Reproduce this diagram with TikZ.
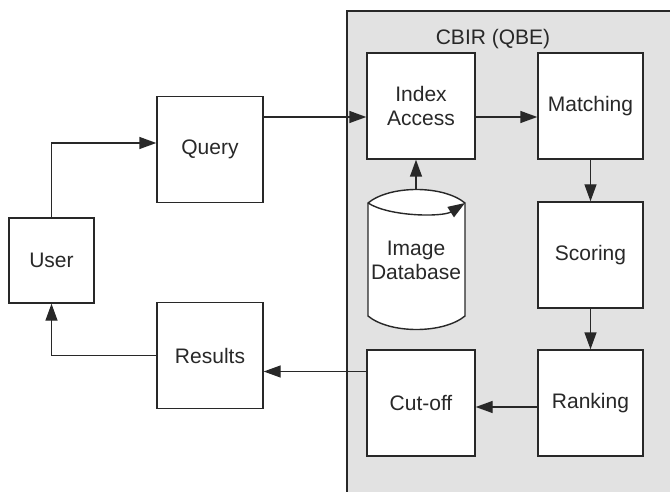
\documentclass[tikz,border=0pt]{standalone}
\usepackage{fontspec}
\setmainfont{Liberation Sans}
\usetikzlibrary{arrows.meta}
\definecolor{panelgray}{RGB}{226,226,226}
\definecolor{ink}{RGB}{40,40,40}
\begin{document}
\begin{tikzpicture}[x=1pt,y=-1pt,
  line/.style={draw=ink,line width=1.4pt},
  box/.style={line,fill=white,minimum width=106pt,minimum height=106pt,inner sep=0pt,align=center,font=\fontsize{21}{24}\selectfont,text=ink},
  arr/.style={line,-{Triangle[length=17pt,width=12pt]}},
  lbl/.style={font=\fontsize{21}{24}\selectfont,text=ink,align=center,inner sep=0pt}]
\useasboundingbox (0,0) rectangle (670,492);
\fill[panelgray] (347,11) rectangle (672,494);
\draw[line] (347,494) -- (347,11) -- (672,11);
\node[lbl] (cbir) at (493,39) {CBIR (QBE)};
% boxes
\node[box,minimum width=85pt,minimum height=85pt] (user) at (51.5,260.5) {User};
\node[box] (query) at (210,149.5) {Query};
\node[box] (results) at (210,355.5) {Results};
\node[box,minimum width=108pt] (index) at (421,106) {Index\\Access};
\node[box,minimum width=105pt] (match) at (590.5,106) {Matching};
\node[box,minimum width=105pt] (score) at (590.5,255) {Scoring};
\node[box,minimum width=105pt] (rank) at (590.5,403) {Ranking};
\node[box,minimum width=108pt] (cut) at (421,403) {Cut-off};
% cylinder
\filldraw[line,fill=white] (368,203) .. controls (390,185) and (443,185) .. (465,203)
  -- (465,316) .. controls (443,334) and (390,334) .. (368,316) -- cycle;
\draw[arr] (368,203) .. controls (390,217) and (443,217) .. (465,203);
\node[lbl] (db) at (416,260) {Image\\Database};
\coordinate (dbtop) at (416,190);
% connectors
\draw[arr] (user.north) |- ([yshift=6.5pt]query.west);
\draw[arr] ([yshift=32.5pt]query.east) -- ([yshift=-11pt]index.west);
\draw[arr] ([yshift=-11pt]index.east) -- ([yshift=-11pt]match.west);
\draw[arr] (match.south) -- (score.north);
\draw[arr] (score.south) -- (rank.north);
\draw[arr] ([yshift=-4pt]rank.west) -- ([yshift=-4pt]cut.east);
\draw[arr] ([yshift=31.5pt]cut.west) -- ([yshift=-16pt]results.east);
\draw[arr] (results.west) -| (user.south);
\draw[arr] (dbtop) -- (dbtop |- index.south);
\end{tikzpicture}
\end{document}
